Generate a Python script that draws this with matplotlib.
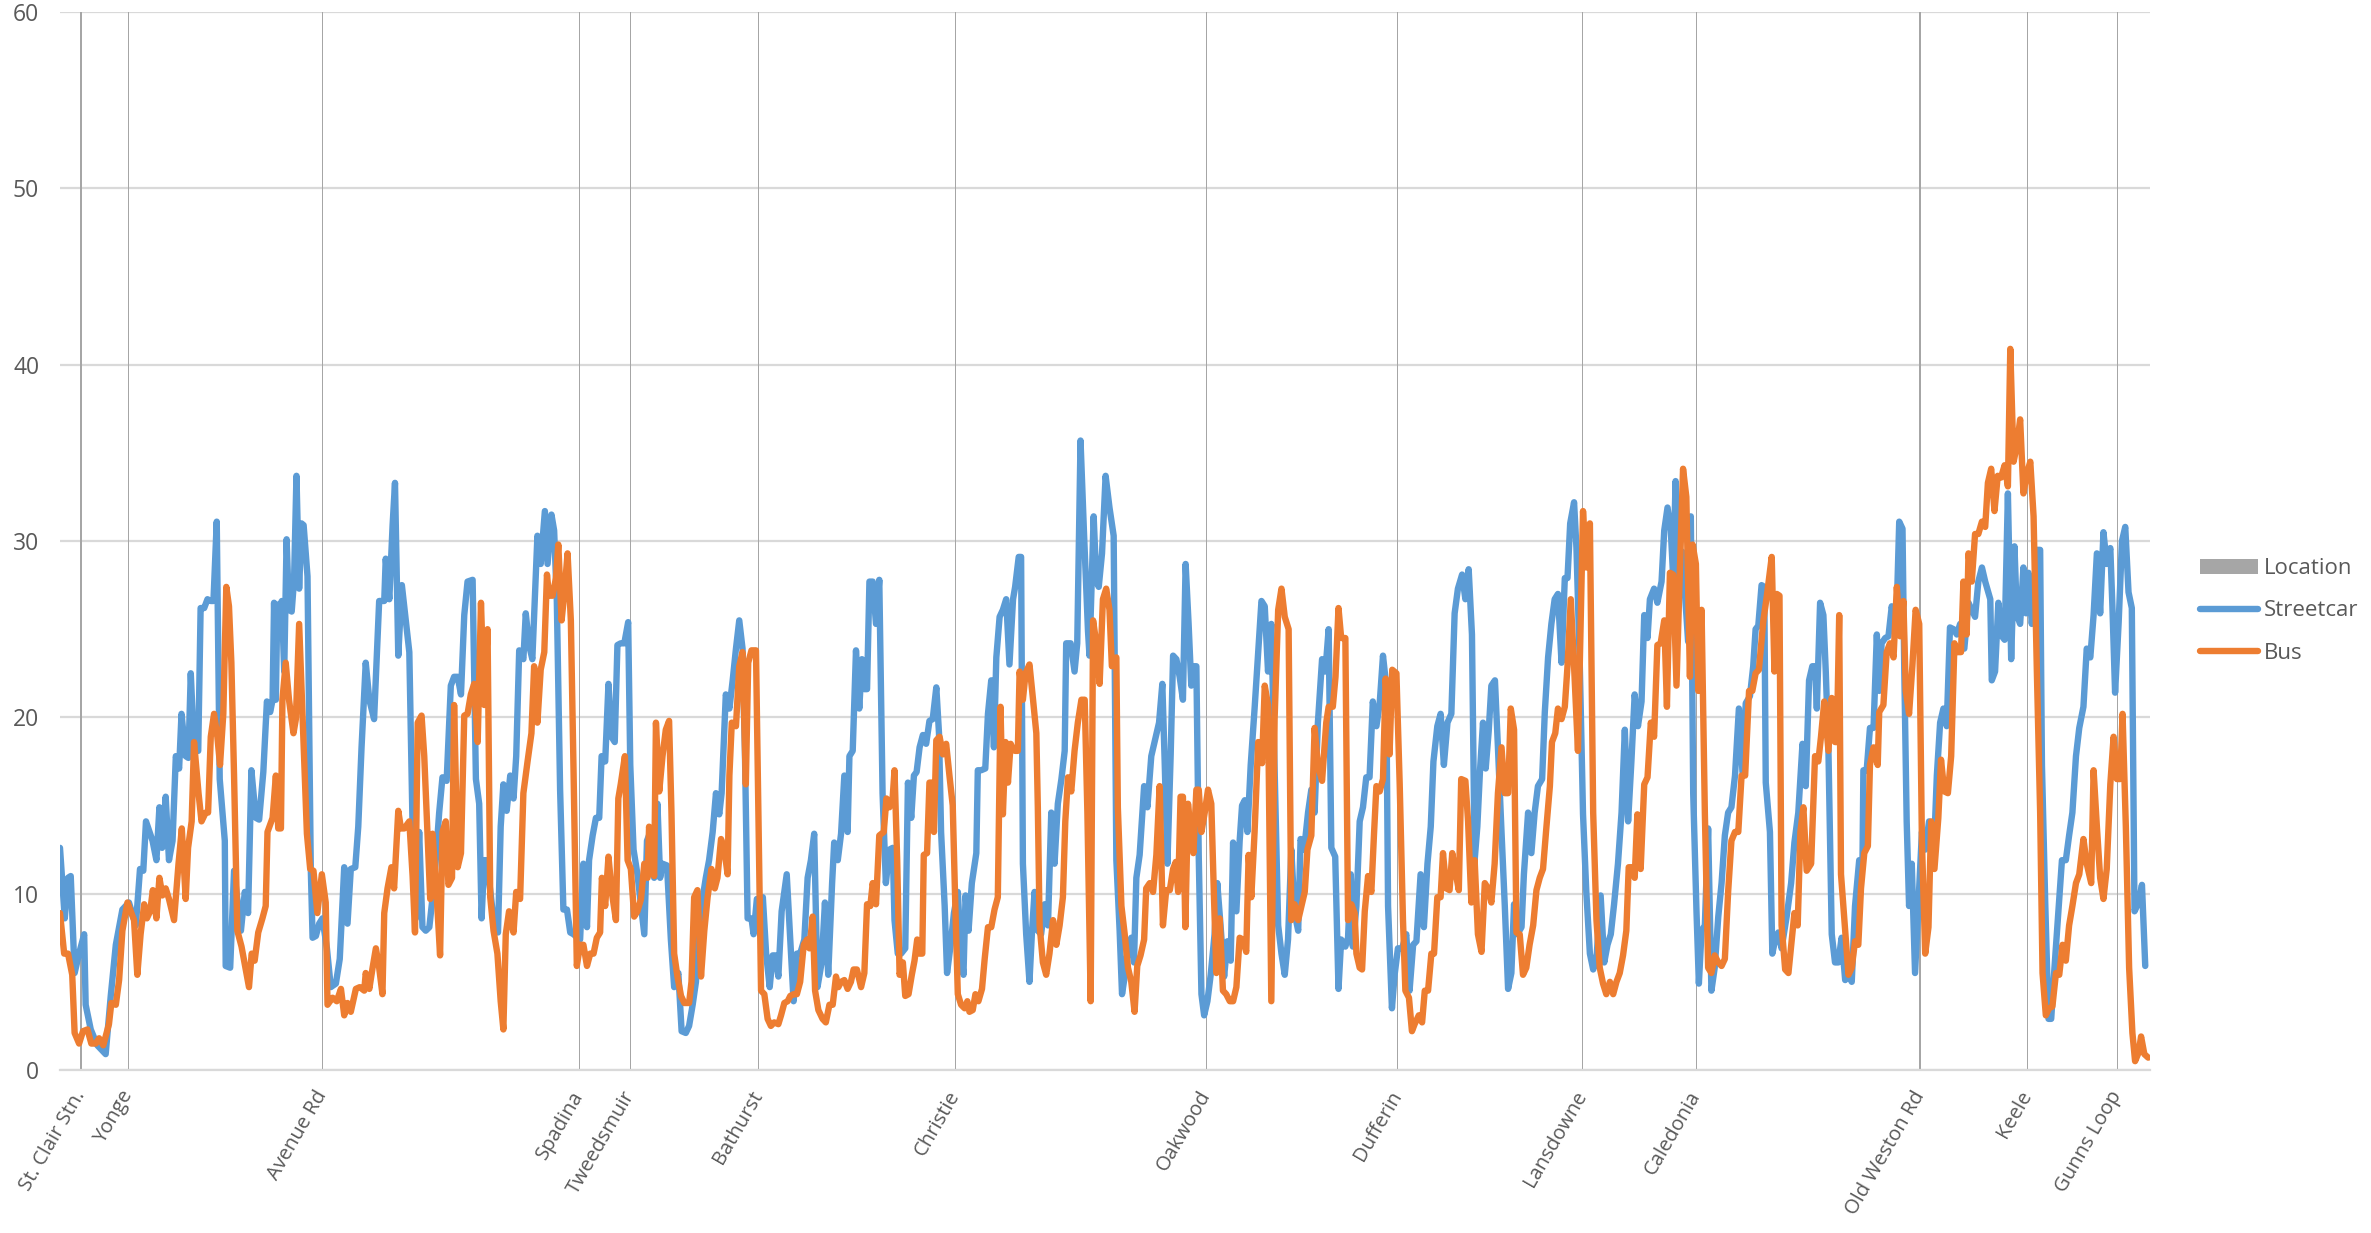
import matplotlib
matplotlib.use("Agg")
import matplotlib.pyplot as plt

# stops along the route (position = sample index along the line, 0..700)
locations = ["St. Clair Stn.", "Yonge", "Avenue Rd", "Spadina", "Tweedsmuir", "Bathurst",
             "Christie", "Oakwood", "Dufferin", "Lansdowne", "Caledonia", "Old Weston Rd",
             "Keele", "Gunns Loop"]
location_pos = [7, 23, 88, 174, 191, 234, 300, 384, 448, 510, 548, 623, 659, 689]
location_height = [60] * len(locations)

# (position, value)
streetcar = [
    (0, 12.6), (1.6, 8.6), (2.7, 10.9), (3.6, 11.0), (4.9, 5.5), (6.4, 6.6), (8.1, 7.7), (8.6, 3.7),
    (10.3, 2.3), (12.5, 1.4), (15.3, 0.9), (17.0, 4.2), (18.7, 7.1), (20.9, 9.1), (23.1, 9.5), (25.4, 8.2),
    (26.8, 11.4), (27.9, 11.3), (28.8, 14.1), (31.0, 13.0), (32.3, 11.9), (33.3, 14.9), (34.2, 12.6),
    (35.4, 15.5), (36.5, 11.9), (37.7, 13.0), (38.8, 17.8), (39.9, 17.1), (40.7, 20.2), (42.1, 17.8),
    (43.0, 17.7), (43.8, 22.5), (44.9, 18.3), (46.3, 18.1), (47.1, 26.2), (48.3, 26.2), (49.4, 26.7),
    (50.5, 26.6), (51.4, 26.6), (52.5, 31.1), (53.5, 16.5), (55.2, 13.0), (55.5, 5.9), (57.0, 5.8),
    (58.3, 11.3), (60.6, 7.9), (61.9, 10.1), (63.0, 8.9), (64.1, 17.0), (65.6, 14.3), (66.7, 14.2),
    (68.1, 16.9), (69.3, 20.9), (70.4, 20.3), (71.2, 21.0), (71.7, 26.5), (72.3, 21.0), (72.8, 26.4),
    (73.5, 26.3), (74.3, 26.6), (75.1, 22.6), (75.9, 30.1), (76.7, 26.1), (77.6, 26.0), (78.4, 27.8),
    (79.2, 33.7), (80.1, 27.3), (80.9, 31.0), (81.6, 30.9), (82.3, 29.3), (82.9, 28.0), (84.0, 11.4),
    (84.6, 7.5), (85.7, 7.6), (86.8, 8.3), (87.9, 8.6), (89.4, 6.9), (90.7, 4.7), (92.4, 4.9), (93.7, 6.3),
    (95.2, 11.5), (96.3, 8.3), (97.4, 11.4), (98.9, 11.5), (99.9, 13.8), (101.0, 18.3), (102.4, 23.1),
    (103.6, 21.0), (105.2, 19.9), (106.9, 26.6), (108.6, 26.6), (109.1, 29.0), (110.3, 26.7),
    (111.4, 30.9), (112.2, 33.3), (113.3, 23.5), (114.5, 27.5), (115.5, 26.0), (117.0, 23.7),
    (118.1, 13.7), (119.2, 8.6), (120.3, 13.5), (121.4, 8.1), (122.5, 7.9), (123.7, 8.1), (125.3, 10.6),
    (127.0, 14.6), (128.1, 16.6), (129.5, 16.4), (130.9, 21.8), (132.0, 22.3), (133.2, 22.3),
    (134.3, 21.3), (135.4, 25.8), (136.5, 27.7), (138.2, 27.8),
    (139.3, 16.5), (140.4, 15.1), (141.2, 8.6), (142.1, 11.9), (142.9, 11.9), (144.3, 9.9), (145.4, 8.2),
    (146.7, 7.8), (147.6, 13.8), (148.5, 16.2), (149.6, 14.7), (150.8, 16.7), (151.9, 15.4), (152.8, 17.8),
    (153.8, 23.8), (155.2, 23.3), (156.0, 25.9), (157.1, 24.1), (158.2, 23.3), (158.8, 25.8), (159.9, 30.3),
    (161.0, 28.7), (162.4, 31.7), (163.3, 28.7), (164.6, 31.5), (165.5, 30.6), (166.4, 26.6), (167.5, 15.9),
    (168.6, 9.1), (169.8, 9.1), (170.9, 7.8), (172.0, 7.7), (173.3, 7.5), (174.2, 7.4), (175.3, 11.7),
    (176.5, 8.1), (177.2, 11.9), (178.4, 13.3), (179.5, 14.3), (180.6, 14.3), (181.4, 17.8), (182.6, 17.5),
    (183.7, 21.9), (184.7, 18.9), (185.8, 18.6), (186.7, 24.1), (187.8, 24.2), (189.0, 24.2), (190.3, 25.4),
    (191.0, 17.3), (192.1, 12.5), (193.4, 11.1), (194.6, 9.3), (195.7, 7.7), (196.6, 13.0), (197.7, 13.5),
    (199.0, 10.9), (200.1, 15.1), (201.0, 10.9), (201.8, 11.7), (203.3, 11.6), (204.6, 7.4), (205.7, 4.7),
    (207.1, 5.5), (208.2, 2.2), (209.6, 2.1), (210.7, 2.5), (211.9, 3.7), (213.0, 5.0), (213.8, 7.9),
    (215.0, 9.5), (216.3, 10.9), (217.4, 11.9), (218.6, 13.5), (219.7, 15.7), (220.8, 14.5), (221.6, 15.7),
    (223.0, 21.3), (224.2, 20.5), (225.3, 22.1), (226.4, 23.9), (227.5, 25.5), (228.6, 23.9), (229.4, 18.1),
    (230.3, 8.6), (231.6, 8.6), (232.3, 7.7), (233.4, 9.7), (234.5, 7.7), (235.4, 9.8), (236.5, 6.6),
    (237.7, 4.7), (238.7, 6.5), (239.6, 6.5), (240.6, 5.3), (241.7, 9.0), (243.4, 11.1), (244.6, 7.4),
    (245.7, 3.9), (246.8, 6.6), (247.9, 6.6), (249.3, 7.4), (250.4, 10.9), (251.5, 11.9), (252.6, 13.4),
    (253.7, 4.7), (255.1, 6.1), (256.2, 9.5), (257.3, 5.4), (258.6, 10.6), (259.3, 12.9), (260.5, 11.9),
    (261.6, 13.4), (262.7, 16.7), (263.8, 13.5), (264.4, 17.8), (265.5, 18.1), (266.6, 23.8), (267.7, 20.5),
    (268.6, 23.3), (269.4, 21.6), (270.3, 21.6), (271.1, 27.7), (272.2, 27.7), (273.3, 25.3), (274.4, 27.8),
    (275.5, 15.7), (276.6, 10.6), (277.8, 12.5), (278.9, 12.6),
    (279.5, 8.5), (280.6, 6.6), (281.7, 6.6), (283.1, 6.9), (284.0, 16.3), (285.1, 14.3), (286.0, 16.7),
    (286.9, 16.9), (287.9, 18.3), (289.0, 19.0), (290.1, 18.5), (291.2, 19.8), (292.3, 19.9), (293.5, 21.7),
    (294.4, 19.1), (295.1, 13.5), (296.3, 9.3), (297.1, 5.5), (298.3, 7.1), (299.4, 8.9), (300.7, 10.1),
    (301.6, 7.1), (302.6, 5.4), (303.3, 9.9), (304.3, 7.9), (305.4, 10.6), (306.9, 12.3), (307.4, 17.0),
    (308.5, 17.0), (309.9, 17.1), (310.8, 20.2), (311.9, 22.1), (312.8, 18.3), (313.6, 23.4), (314.7, 25.7),
    (315.8, 26.1), (316.9, 26.7), (318.0, 23.0), (319.2, 26.7), (319.9, 27.4), (321.1, 29.1), (321.9, 29.1),
    (322.5, 11.7), (323.6, 7.7), (324.7, 5.0), (325.5, 7.7), (326.4, 10.1), (327.5, 7.9), (328.6, 7.7),
    (329.8, 9.4), (330.9, 8.2), (332.0, 14.6), (333.1, 11.7), (334.2, 15.1), (335.4, 16.5), (336.5, 18.1),
    (337.0, 24.2), (338.5, 24.2), (339.8, 22.6), (340.7, 24.2), (341.8, 35.7), (343.0, 30.3), (344.3, 24.9),
    (344.8, 23.5), (346.2, 31.4), (347.1, 27.7), (347.9, 27.4), (349.0, 29.3), (350.2, 33.7), (351.5, 31.9),
    (352.9, 30.3), (353.8, 11.9), (354.9, 7.9), (355.7, 4.3), (356.6, 5.3), (357.7, 6.9), (358.8, 7.5),
    (359.7, 6.1), (360.5, 10.9), (361.6, 12.2), (363.1, 16.1), (364.2, 14.9), (365.5, 17.8), (366.6, 18.6),
    (368.1, 19.7), (369.2, 21.9), (370.0, 17.4), (370.9, 11.7), (372.0, 17.9), (372.8, 23.5), (373.9, 23.3),
    (375.0, 22.3), (376.1, 21.0), (377.0, 28.7), (378.0, 25.3), (378.9, 21.8), (379.8, 22.9), (380.6, 22.9),
    (381.4, 12.1), (382.3, 4.3), (383.2, 3.1), (384.3, 3.9), (385.4, 5.4), (386.7, 7.7), (387.6, 10.6),
    (388.7, 8.2), (389.9, 5.3), (391.0, 7.3), (392.1, 6.2), (392.9, 12.9), (394.0, 9.0), (395.1, 13.0),
    (395.9, 15.0), (396.8, 15.3), (397.7, 13.5), (398.8, 17.3), (400.1, 20.5), (401.3, 23.7), (402.4, 26.6),
    (403.5, 26.3), (404.6, 22.6), (405.7, 25.3), (406.8, 17.1), (408.0, 8.2), (409.1, 6.6), (410.2, 5.4),
    (411.3, 7.4), (412.4, 12.5), (413.5, 8.9), (414.7, 7.9), (415.5, 13.1), (416.7, 12.5), (418.0, 14.6),
    (419.1, 15.9),
    (420.2, 14.6), (421.3, 19.7), (422.7, 23.3), (423.8, 22.6), (424.9, 25.0), (425.8, 12.6), (427.1, 12.1),
    (428.2, 4.6), (429.1, 7.4), (430.5, 7.0), (431.4, 7.5), (432.3, 11.1), (433.0, 7.0), (434.2, 9.3),
    (435.3, 14.1), (436.4, 14.9), (437.5, 16.6), (438.6, 16.6), (439.7, 20.9), (440.9, 19.5), (442.0, 20.8),
    (443.1, 23.5), (444.2, 21.8), (444.8, 9.3), (446.1, 3.5), (447.0, 5.4), (448.1, 6.9), (449.5, 6.9),
    (450.9, 7.7), (452.0, 4.5), (453.2, 7.1), (454.3, 7.3), (455.7, 11.1), (456.8, 8.1), (458.0, 11.7),
    (459.1, 13.8), (460.0, 17.5), (461.3, 19.5), (462.4, 20.2), (463.5, 17.3), (464.7, 19.7), (466.0, 20.2),
    (467.1, 25.9), (468.2, 27.3), (469.6, 28.1), (470.7, 26.7), (471.8, 28.4), (472.9, 24.7), (473.8, 11.9),
    (474.7, 13.8), (475.6, 17.0), (476.6, 19.7), (477.5, 17.1), (478.5, 19.2), (479.4, 21.8), (480.6, 22.1),
    (481.6, 18.3), (482.8, 13.5), (483.9, 9.3), (485.0, 4.6), (486.1, 5.5), (487.0, 9.4), (488.1, 7.7),
    (489.5, 8.1), (490.3, 11.1), (491.7, 14.6), (492.8, 12.3), (493.9, 14.6), (495.0, 16.1), (496.4, 16.5),
    (497.3, 20.3), (498.4, 23.4), (499.5, 25.3), (500.6, 26.7), (501.7, 27.0), (502.9, 23.1), (504.0, 27.9),
    (504.9, 27.9), (505.8, 31.0), (507.1, 32.2), (507.9, 29.6), (509.0, 23.1), (510.1, 14.5), (511.2, 10.1),
    (512.4, 6.6), (513.5, 5.7), (514.6, 6.3), (516.0, 9.9), (517.2, 6.1), (518.3, 7.1), (519.4, 7.7),
    (520.5, 9.4), (521.8, 11.7), (523.0, 14.6), (524.1, 19.3), (525.2, 14.1), (526.3, 17.5), (527.4, 21.3),
    (528.5, 19.5), (529.7, 20.9), (530.6, 25.8), (531.7, 24.5), (532.5, 26.7), (533.9, 27.3), (535.0, 26.5),
    (536.4, 27.7), (537.3, 30.6), (538.4, 31.9), (539.5, 30.6), (540.3, 27.9), (541.1, 33.4), (542.2, 28.0),
    (543.3, 29.4), (544.4, 26.6), (545.3, 24.3), (546.2, 31.4), (547.0, 15.7), (548.1, 9.0), (548.9, 4.9),
    (549.8, 7.9), (550.9, 8.2), (552.0, 13.7), (553.1, 4.5), (554.2, 5.8), (555.4, 8.7), (556.5, 10.6),
    (557.6, 13.3), (558.7, 14.6), (559.8, 14.9),
    (561.0, 16.7), (562.3, 20.5), (563.5, 16.9), (564.6, 20.8), (566.0, 21.2), (567.1, 22.9), (567.9, 25.0),
    (568.8, 25.2), (569.9, 27.5), (570.8, 27.4), (571.3, 16.3), (572.7, 13.5), (573.5, 6.6), (574.6, 7.5),
    (575.5, 7.8), (576.6, 6.9), (578.3, 8.7), (579.8, 10.6), (580.9, 12.9), (582.2, 14.6), (583.6, 18.5),
    (584.7, 16.1), (585.8, 22.1), (586.9, 22.9), (587.8, 22.9), (588.4, 20.5), (589.5, 26.5), (590.6, 25.8),
    (591.4, 22.6), (592.3, 18.1), (593.4, 7.7), (594.5, 6.1), (595.6, 6.1), (596.7, 7.5), (597.9, 5.1),
    (599.0, 5.4), (600.1, 5.0), (601.2, 9.3), (602.6, 11.9), (603.7, 11.9), (604.0, 17.0), (605.1, 17.0),
    (606.2, 19.4), (607.4, 19.4), (608.5, 24.7), (609.3, 21.5), (610.1, 24.2), (611.3, 24.5), (612.4, 24.6),
    (613.5, 26.3), (614.4, 25.3), (615.2, 26.3), (616.0, 31.1), (617.1, 30.7), (617.7, 22.6), (618.5, 14.1),
    (619.3, 9.3), (620.2, 11.7), (621.3, 5.5), (622.4, 9.3), (623.6, 13.5), (624.7, 12.5), (626.0, 14.1),
    (627.5, 11.9), (628.6, 16.7), (629.7, 19.7), (630.8, 20.5), (631.9, 19.5), (633.0, 25.1), (634.2, 25.0),
    (635.3, 24.7), (636.4, 25.3), (637.8, 23.9), (639.2, 26.5), (640.3, 26.1), (641.4, 25.7), (642.5, 27.7),
    (643.7, 28.5), (644.8, 27.7), (646.5, 26.7), (647.0, 22.1), (648.1, 22.6), (649.2, 26.5), (650.4, 24.6),
    (651.3, 24.4), (652.4, 32.7), (653.5, 23.3), (654.6, 29.7), (655.4, 25.8), (656.5, 25.3), (657.6, 28.5),
    (658.5, 25.9), (659.3, 28.2), (660.4, 25.3), (661.3, 26.9), (662.1, 29.5), (663.2, 29.5), (663.8, 17.3),
    (664.9, 9.5), (666.0, 2.9), (666.9, 2.9), (668.0, 5.8), (669.1, 8.5), (670.5, 11.9), (671.8, 11.9),
    (672.9, 13.3), (674.0, 14.6), (675.2, 17.8), (676.3, 19.4), (677.7, 20.6), (678.8, 23.9), (680.0, 23.4),
    (681.1, 25.8), (682.2, 29.3), (683.3, 25.9), (684.4, 30.5), (685.5, 28.7), (686.7, 29.6), (687.4, 26.3),
    (688.3, 21.4), (689.5, 25.4), (690.6, 30.0), (691.7, 30.8), (692.8, 27.1), (693.9, 26.2), (694.8, 9.0),
    (696.2, 9.5), (697.3, 10.5), (698.4, 5.9),
]

bus = [
    (0, 8.9), (1.4, 6.6), (2.7, 6.6), (4.1, 5.4), (4.9, 2.1), (6.4, 1.5), (7.7, 2.2), (9.2, 2.3), (10.5, 1.5),
    (12.0, 1.5), (13.1, 1.8), (14.5, 1.4), (16.4, 2.6), (17.2, 3.8), (18.7, 3.7), (19.8, 5.1), (20.9, 7.9),
    (22.6, 9.5), (24.8, 8.5), (25.9, 5.4), (27.0, 7.7), (28.2, 9.4), (29.1, 8.6), (30.2, 9.0), (31.1, 10.2),
    (32.3, 8.6), (33.3, 10.9), (34.3, 9.9), (35.4, 10.3), (36.5, 9.7), (38.2, 8.5), (39.7, 11.7), (40.8, 13.7),
    (42.1, 9.7), (42.9, 12.6), (44.1, 14.1), (44.9, 18.6), (46.4, 15.7), (47.4, 14.1), (48.8, 14.6),
    (49.6, 14.6), (50.5, 18.9), (51.6, 20.2), (52.7, 18.9), (53.6, 17.3), (54.7, 20.2), (55.7, 27.4),
    (56.6, 26.3), (57.4, 23.1), (58.3, 16.7), (59.4, 7.9), (60.8, 7.0), (62.2, 5.7), (63.3, 4.7), (64.2, 6.6),
    (65.2, 6.2), (66.4, 7.8), (67.8, 8.6), (68.9, 9.3), (69.5, 13.5), (71.2, 14.3), (72.3, 16.7), (73.1, 13.7),
    (74.0, 13.7), (74.5, 21.0), (75.6, 23.1), (76.7, 21.0), (78.2, 19.1), (79.0, 19.9), (80.1, 25.3),
    (81.2, 20.2), (82.7, 13.4), (83.8, 11.4), (84.9, 11.3), (86.2, 8.9), (87.7, 11.1), (89.0, 9.5),
    (89.6, 3.7), (91.3, 4.1), (92.7, 3.9), (94.1, 4.6), (95.2, 3.1), (96.3, 3.8), (97.4, 3.3), (99.1, 4.6),
    (100.4, 4.7), (101.9, 4.5), (102.4, 5.5), (103.6, 4.6), (104.7, 5.8), (105.8, 6.9), (106.9, 5.8),
    (108.0, 4.3), (108.6, 8.9), (109.7, 10.3), (111.0, 11.5), (111.9, 10.3), (113.3, 14.7), (114.2, 13.7),
    (115.3, 13.7), (117.0, 14.1), (118.1, 11.0), (118.9, 7.8), (119.8, 19.7), (121.1, 20.1), (122.0, 17.8),
    (122.9, 14.1), (124.0, 9.7), (124.8, 13.4), (126.2, 9.8), (127.3, 6.5), (128.1, 13.5), (129.2, 14.1),
    (130.1, 10.5), (131.3, 10.9), (132.0, 20.7), (133.2, 11.5), (134.3, 12.3), (135.4, 20.1), (136.5, 20.2),
    (137.6, 21.3), (138.7, 21.9), (139.9, 18.6), (141.0, 26.5),
    (142.1, 20.7), (143.2, 25.0), (144.1, 9.8), (145.2, 7.9), (146.5, 6.6), (147.6, 3.9), (148.5, 2.3),
    (149.3, 7.7), (150.4, 9.0), (151.9, 7.8), (152.8, 10.1), (154.1, 9.7), (155.2, 15.7), (156.6, 17.5),
    (157.9, 19.1), (158.8, 22.9), (159.9, 19.7), (161.0, 22.7), (162.2, 23.7), (163.1, 28.1), (163.8, 26.9),
    (165.0, 26.9), (166.1, 27.9), (166.9, 29.8), (168.0, 25.5), (168.9, 27.0), (170.0, 29.3), (171.1, 25.5),
    (172.0, 17.0), (173.1, 5.9), (174.2, 7.1), (175.3, 7.1), (176.5, 5.9), (177.6, 6.6), (178.7, 6.6),
    (179.8, 7.5), (180.9, 7.8), (181.5, 10.9), (182.6, 9.3), (183.7, 12.1), (184.8, 10.1), (186.2, 8.5),
    (187.0, 15.4), (187.8, 16.2), (189.2, 17.8), (190.1, 11.9), (191.2, 11.4), (192.3, 8.7), (193.4, 9.0),
    (194.6, 9.7), (195.7, 11.7), (196.8, 10.9), (197.3, 13.8), (198.1, 11.9), (199.0, 11.0), (199.6, 19.7),
    (200.7, 15.8), (201.8, 17.8), (202.9, 19.3), (204.0, 19.8), (204.8, 14.6), (205.7, 6.6), (206.8, 5.3),
    (208.0, 4.2), (209.1, 3.8), (210.7, 3.8), (211.5, 5.0), (212.4, 9.8), (213.5, 10.2), (214.7, 5.3),
    (215.8, 7.9), (216.9, 9.8), (218.2, 11.4), (219.3, 10.3), (220.2, 10.9), (221.4, 13.1), (222.5, 12.5),
    (223.6, 11.1), (224.2, 16.7), (225.0, 19.7), (226.4, 19.5), (227.5, 22.9), (228.6, 23.7), (229.7, 16.2),
    (230.5, 23.1), (231.6, 23.8), (233.1, 23.8), (233.9, 14.6), (234.8, 4.5), (235.9, 4.3), (237.0, 2.9),
    (238.1, 2.5), (239.2, 2.7), (240.6, 2.6), (241.5, 3.1), (242.6, 3.8), (243.7, 3.9), (244.6, 4.2),
    (245.7, 4.3), (246.8, 4.3), (247.9, 5.0), (249.1, 7.1), (250.2, 7.4), (251.0, 6.9), (252.1, 8.7),
    (252.9, 4.5), (254.0, 3.4), (255.4, 2.9), (256.5, 2.7), (257.7, 3.7), (258.8, 3.7), (259.9, 5.3),
    (260.7, 4.7), (261.6, 5.0), (262.7, 5.1), (263.8, 4.6), (264.9, 5.0), (265.8, 5.7), (266.9, 5.7),
    (268.3, 4.7), (269.4, 5.5), (270.3, 9.4), (271.4, 9.3), (272.2, 10.6), (273.3, 9.4), (274.4, 13.3),
    (275.9, 13.5), (276.8, 15.4), (277.8, 14.9), (278.9, 15.5),
    (279.5, 17.0), (280.4, 11.9), (281.2, 5.4), (282.3, 6.1), (283.1, 4.2), (284.2, 4.3), (285.3, 5.4),
    (286.2, 6.2), (287.1, 7.4), (287.9, 6.6), (288.8, 6.6), (289.3, 12.2), (290.4, 12.3), (291.2, 16.3),
    (292.0, 16.3), (292.7, 13.5), (293.5, 18.7), (294.6, 18.9), (295.7, 17.9), (296.8, 18.5), (297.9, 16.7),
    (299.0, 15.0), (299.9, 9.1), (300.7, 4.3), (301.8, 3.7), (303.0, 3.5), (303.9, 3.9), (304.6, 3.3),
    (305.7, 3.4), (306.6, 4.3), (307.6, 3.9), (308.8, 4.6), (309.7, 6.3), (310.8, 8.1), (311.9, 8.1),
    (313.0, 9.1), (314.1, 9.8), (315.0, 20.6), (315.8, 14.5), (316.7, 18.6), (317.5, 16.3), (318.4, 18.5),
    (319.2, 18.2), (319.9, 18.1), (320.8, 18.1), (321.4, 22.6), (322.5, 21.0), (323.4, 22.5), (324.7, 23.0),
    (325.9, 21.0), (327.0, 19.1), (327.5, 14.9), (328.1, 8.2), (329.2, 6.1), (330.3, 5.4), (331.4, 6.6),
    (332.6, 8.5), (333.7, 7.1), (334.8, 8.2), (335.9, 9.8), (336.7, 14.1), (337.6, 16.6), (338.7, 15.8),
    (339.8, 18.1), (340.9, 19.7), (342.1, 21.0), (343.2, 21.0), (344.1, 14.6), (345.2, 3.9), (346.0, 25.5),
    (347.1, 24.2), (348.2, 21.9), (349.3, 26.7), (350.4, 27.3), (351.5, 26.1), (352.3, 22.9), (353.8, 23.4),
    (354.3, 14.9), (355.5, 9.3), (356.6, 7.7), (357.7, 5.8), (358.8, 5.0), (359.9, 3.3), (360.8, 5.9),
    (361.9, 6.5), (363.1, 7.4), (363.8, 10.3), (365.0, 10.6), (366.1, 10.1), (367.2, 12.2), (368.3, 16.1),
    (369.4, 8.2), (370.5, 10.2), (371.7, 10.2), (372.8, 11.4), (373.7, 11.8), (374.5, 10.1), (375.3, 15.5),
    (376.1, 15.5), (376.9, 8.1), (377.8, 15.1), (378.7, 13.5), (379.6, 12.3), (380.6, 15.9), (381.4, 15.9),
    (382.3, 13.5), (383.4, 14.6), (384.5, 15.9), (385.6, 15.1), (386.5, 9.8), (387.3, 5.5), (388.4, 8.6),
    (389.5, 4.5), (390.6, 4.3), (391.8, 3.9), (392.9, 3.9), (394.0, 4.7), (395.1, 7.5), (396.2, 7.4),
    (397.3, 6.7), (398.1, 12.2), (399.0, 9.8), (400.1, 13.5), (401.3, 18.6), (402.6, 17.4), (403.5, 21.8),
    (404.6, 20.7), (405.7, 3.9), (406.8, 19.9), (408.0, 26.1), (409.1, 27.3), (410.2, 25.7), (411.5, 25.0),
    (412.4, 8.5), (413.5, 9.4), (414.7, 8.5), (415.8, 9.3), (416.9, 10.1), (417.8, 12.5), (419.1, 13.3),
    (420.2, 19.4), (421.3, 17.3), (422.7, 16.4), (424.1, 19.7), (424.9, 20.6), (426.3, 20.6), (427.2, 22.3),
    (428.2, 26.2), (429.1, 24.5), (430.5, 24.5), (431.4, 8.5), (432.5, 9.4), (433.6, 8.9), (434.2, 6.6),
    (435.3, 5.8), (436.1, 5.7), (437.0, 9.0), (438.1, 11.0), (439.2, 10.1), (440.1, 13.4), (440.9, 16.1),
    (442.0, 15.8), (443.1, 16.5), (444.0, 22.2), (445.3, 17.9), (446.2, 22.7), (447.6, 22.5), (448.7, 16.2),
    (449.8, 8.5), (450.6, 4.5), (451.8, 4.1), (452.8, 2.2), (453.7, 2.6), (455.1, 3.1), (456.2, 2.7),
    (457.1, 4.5), (458.2, 4.5), (459.3, 6.6), (460.2, 6.6), (461.3, 9.8), (462.4, 9.8), (463.2, 12.3),
    (464.3, 10.3), (465.4, 10.2), (466.3, 12.3), (467.3, 11.3), (468.5, 10.2), (469.3, 16.5), (470.7, 16.4),
    (471.6, 14.1), (472.7, 9.5), (473.8, 11.9), (474.9, 7.7), (476.1, 6.7), (477.2, 10.6), (478.3, 10.3),
    (479.4, 9.5), (480.5, 11.7), (481.6, 15.7), (482.8, 18.3), (483.9, 15.7), (485.0, 15.7), (485.9, 20.5),
    (487.0, 19.3), (487.8, 7.8), (488.9, 7.7), (490.0, 5.4), (491.1, 5.8), (492.2, 7.1), (493.4, 8.2),
    (494.5, 10.2), (495.6, 10.9), (496.7, 11.4), (497.8, 13.7), (499.0, 16.1), (499.7, 18.6), (500.8, 19.1),
    (501.7, 20.5), (502.9, 19.9), (504.0, 20.6), (504.9, 22.9), (506.0, 26.7), (507.1, 22.9), (508.4, 18.1),
    (510.1, 31.7), (511.2, 28.5), (512.4, 31.0), (513.5, 14.6), (514.6, 8.5), (515.7, 5.8), (516.8, 4.9),
    (517.9, 4.3), (519.1, 5.0), (520.2, 4.3), (521.3, 5.0), (522.4, 5.5), (523.5, 6.5), (524.6, 7.9),
    (525.4, 11.5), (526.5, 11.5), (527.4, 10.9), (528.3, 14.5), (529.4, 11.4), (530.6, 16.2), (531.7, 16.6),
    (532.8, 19.7), (533.9, 18.9), (535.0, 24.1), (536.1, 24.2), (537.3, 25.5), (538.2, 20.6), (539.2, 28.2),
    (540.3, 28.1), (541.4, 21.8), (542.5, 28.1), (543.6, 34.1), (544.7, 32.5), (545.9, 22.3), (546.8, 29.8),
    (547.9, 28.7), (548.7, 21.5), (549.8, 26.1), (550.9, 14.6), (552.0, 5.8), (553.1, 5.5), (554.2, 6.5),
    (555.4, 6.1), (556.5, 5.9), (557.6, 6.3), (558.7, 10.1), (559.8, 13.0),
    (561.0, 13.5), (562.1, 13.5), (563.2, 16.7), (564.4, 16.7), (565.7, 21.5), (566.8, 21.5), (567.9, 22.5),
    (569.0, 22.7), (570.5, 25.5), (571.6, 26.8), (573.3, 29.1), (574.2, 22.6), (575.0, 27.0), (575.9, 26.9),
    (576.6, 8.2), (577.8, 5.7), (578.9, 5.5), (580.0, 7.4), (580.9, 8.9), (582.0, 8.2), (582.9, 13.5),
    (583.9, 14.9), (585.0, 11.3), (586.5, 11.7), (587.8, 17.8), (588.9, 17.5), (589.8, 18.9), (590.9, 20.9),
    (592.3, 18.1), (593.4, 21.1), (594.5, 18.6), (595.1, 18.6), (595.9, 25.8), (596.5, 11.1), (597.9, 7.9),
    (599.0, 5.4), (600.1, 5.8), (601.2, 7.3), (602.3, 7.1), (603.2, 10.3), (604.3, 12.3), (605.5, 12.7),
    (606.2, 17.3), (607.4, 18.3), (608.8, 17.3), (609.3, 20.3), (610.7, 20.7), (611.8, 23.7), (612.9, 24.2),
    (614.1, 23.4), (615.2, 27.4), (616.3, 24.6), (617.4, 26.6), (618.2, 21.5), (619.3, 20.2), (620.4, 22.9),
    (621.5, 26.1), (622.7, 25.3), (623.6, 13.0), (624.7, 6.6), (625.8, 8.1), (626.7, 14.1), (627.8, 11.4),
    (629.1, 14.3), (630.0, 17.6), (631.1, 15.8), (632.3, 15.7), (633.4, 17.8), (634.5, 24.2), (635.6, 23.7),
    (636.7, 23.7), (637.5, 27.7), (638.6, 24.7), (639.2, 29.3), (640.3, 27.7), (641.4, 30.4), (642.5, 30.4),
    (643.7, 31.1), (644.8, 30.8), (645.7, 33.3), (646.8, 34.1), (647.9, 31.7), (649.0, 33.7), (650.1, 33.6),
    (651.3, 34.3), (652.4, 33.1), (653.2, 40.9), (654.3, 34.5), (655.4, 35.4), (656.5, 36.9), (657.6, 32.7),
    (658.7, 33.8), (659.9, 34.5), (661.0, 31.4), (662.1, 22.6), (663.2, 14.6), (664.0, 5.5), (665.1, 3.1),
    (666.2, 3.5), (667.3, 3.6), (668.5, 5.5), (669.6, 5.4), (670.7, 7.1), (671.8, 6.2), (672.9, 8.2),
    (674.0, 9.3), (675.2, 10.6), (676.3, 11.1), (677.7, 13.1), (678.8, 11.7), (680.3, 10.6), (681.1, 17.0),
    (682.2, 13.8), (683.3, 10.9), (684.4, 9.7), (685.5, 11.4), (686.7, 16.2), (687.8, 18.9), (688.9, 16.5),
    (690.0, 16.5), (690.8, 20.2), (691.9, 13.8), (693.0, 5.8), (694.1, 2.1), (695.0, 0.5), (696.2, 1.0),
    (697.0, 1.9), (698.1, 0.9), (699.4, 0.7),
]

sc_x, sc_y = zip(*streetcar)
bus_x, bus_y = zip(*bus)

fig = plt.figure(figsize=(23.71, 12.33), dpi=100)
ax = fig.add_axes([0.0253, 0.1322, 0.8815, 0.858])

bars = ax.bar(location_pos, location_height, width=0.45, color="#A6A6A6", zorder=1)
l1, = ax.plot(sc_x, sc_y, color="#5B9BD5", lw=4.6, solid_joinstyle="round", solid_capstyle="round", zorder=3)
l2, = ax.plot(bus_x, bus_y, color="#ED7D31", lw=4.6, solid_joinstyle="round", solid_capstyle="round", zorder=4)

ax.set_xlim(0, 700)
ax.set_ylim(0, 60)
ax.set_yticks(range(0, 61, 10))
ax.yaxis.grid(True, color="#D9D9D9", lw=1.6, zorder=0)
ax.set_axisbelow(True)
for s in ["top", "right", "left"]:
    ax.spines[s].set_visible(False)
ax.spines["bottom"].set_color("#D9D9D9")
ax.spines["bottom"].set_linewidth(1.6)
ax.tick_params(length=0)
ax.tick_params(axis="y", pad=15, labelsize=16.5, labelcolor="#595959")

ax.set_xticks(location_pos)
ax.set_xticklabels(locations, rotation=60, ha="right", va="center", rotation_mode="anchor",
                   fontsize=14.5, color="#595959", family="Open Sans")
ax.tick_params(axis="x", pad=16)
for t in ax.get_yticklabels():
    t.set_family("Open Sans")

fig.legend([bars, l1, l2], ["Location", "Streetcar", "Bus"], loc="center left",
           bbox_to_anchor=(0.928, 0.5045), frameon=False, handlelength=2.6, handletextpad=0.25,
           labelspacing=0.95, borderpad=0, borderaxespad=0,
           prop={"family": "Open Sans", "size": 16}, labelcolor="#595959")

fig.savefig("out.png", dpi=100)
